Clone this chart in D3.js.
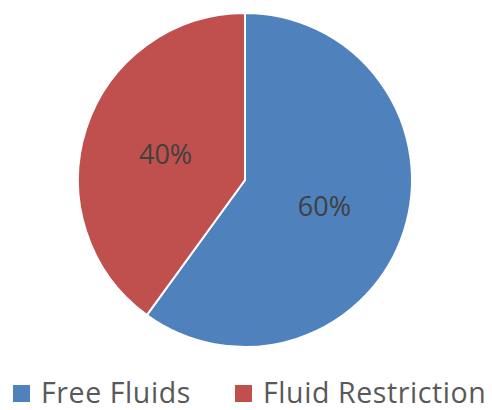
<!DOCTYPE html>
<html>
<head>
<meta charset="utf-8">
<script src="https://cdn.jsdelivr.net/npm/d3@7"></script>
<style>
  body { margin: 0; background: #fff; }
</style>
</head>
<body>
<div id="chart-area"></div>
<script>
var categories = ["Free Fluids", "Fluid Restriction"];
var values = [60, 40];
var labels = ["60%", "40%"];
var colors = ["#4F81BD", "#C0504D"];

var width = 492;
var height = 410;
var radius = 167;

var svg = d3.select("#chart-area").append("svg")
    .attr("width", width)
    .attr("height", height);

var group = svg.append("g")
    .attr("transform", "translate(" + 245 + "," + 180 + ")");

var pie = d3.pie().sort(null).value((d) => { return d.value; });
var arc = d3.arc().innerRadius(0).outerRadius(radius);

var data = categories.map((c, i) => {
    return {name: c, value: values[i], label: labels[i]};
});

var color = d3.scaleOrdinal()
    .domain(categories)
    .range(colors);

var slices = group.selectAll("path").data(pie(data));
slices.enter()
    .append("path")
        .attr("d", arc)
        .attr("fill", (d) => { return color(d.data.name); })
        .attr("stroke", "#fff")
        .attr("stroke-width", 2);

group.selectAll("text.label").data(pie(data))
    .enter().append("text")
        .attr("class", "label")
        .attr("transform", (d) => { return "translate(" + arc.centroid(d) + ")"; })
        .attr("text-anchor", "middle")
        .attr("dy", "0.38em")
        .attr("font-family", "'Open Sans', sans-serif")
        .attr("font-size", 27)
        .attr("fill", "#404040")
        .text((d) => { return d.data.label; });

// legend
var legendX = d3.scaleOrdinal()
    .domain(categories)
    .range([13, 235]);

var legend = svg.selectAll("g.legend").data(categories)
    .enter().append("g")
        .attr("class", "legend")
        .attr("transform", (d) => { return "translate(" + legendX(d) + "," + 385 + ")"; });

legend.append("rect")
    .attr("width", 17)
    .attr("height", 17)
    .attr("fill", (d) => { return color(d); });

legend.append("text")
    .attr("x", 28)
    .attr("y", 18)
    .attr("font-family", "'Open Sans', sans-serif")
    .attr("font-size", 28.5)
    .attr("letter-spacing", 0.6)
    .attr("fill", "#595959")
    .text((d) => { return d; });
</script>
</body>
</html>
